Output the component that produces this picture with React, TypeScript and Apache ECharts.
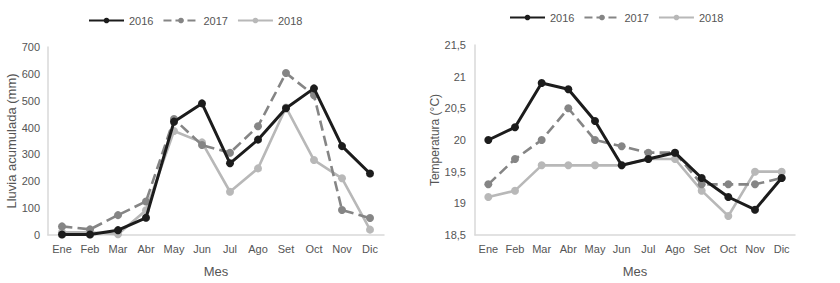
import React, { useEffect, useRef } from "react";
import * as echarts from "echarts";

const months = ["Ene", "Feb", "Mar", "Abr", "May", "Jun", "Jul", "Ago", "Set", "Oct", "Nov", "Dic"];
const years = ["2016", "2017", "2018"];

const rain2016 = [2, 2, 18, 64, 422, 490, 267, 355, 472, 546, 331, 229];
const rain2017 = [32, 21, 74, 125, 432, 335, 306, 405, 603, 520, 93, 63];
const rain2018 = [10, 10, 3, 92, 387, 345, 161, 248, 475, 279, 211, 20];

const temp2016 = [20.0, 20.2, 20.9, 20.8, 20.3, 19.6, 19.7, 19.8, 19.4, 19.1, 18.9, 19.4];
const temp2017 = [19.3, 19.7, 20.0, 20.5, 20.0, 19.9, 19.8, 19.8, 19.3, 19.3, 19.3, 19.4];
const temp2018 = [19.1, 19.2, 19.6, 19.6, 19.6, 19.6, 19.7, 19.7, 19.2, 18.8, 19.5, 19.5];

const colors = ["#1c1c1c", "#858585", "#b8b8b8"];
const lineTypes: ("solid" | "dashed")[] = ["solid", "dashed", "solid"];
const widths = [3, 2.6, 2.6];

const FONT = "Liberation Sans, Arial, sans-serif";
const TXT = "#555555";

export default function App() {
  const ref = useRef<HTMLDivElement>(null);
  useEffect(() => {
    if (!ref.current) return;
    const chart = echarts.init(ref.current, undefined, { renderer: "svg" });
    const mkSeries = (data: number[], i: number, idx: number) => ({
      name: years[i],
      type: "line",
      xAxisIndex: idx,
      yAxisIndex: idx,
      data,
      symbol: "circle",
      symbolSize: 8,
      itemStyle: { color: colors[i] },
      lineStyle: { color: colors[i], width: widths[i], type: lineTypes[i] },
      z: 3 - i,
    });
    const xAxisBase = (gridIndex: number) => ({
      type: "category",
      gridIndex,
      data: months,
      boundaryGap: true,
      axisLine: { lineStyle: { color: "#d9d9d9", width: 1.5 } },
      axisTick: { show: false },
      axisLabel: { color: TXT, fontSize: 11, fontFamily: FONT, margin: 8, interval: 0 },
      name: "Mes",
      nameLocation: "middle",
      nameGap: 30,
      nameTextStyle: { color: TXT, fontSize: 13, fontFamily: FONT },
    });
    const legendBase = {
      data: years,
      itemWidth: 35,
      itemHeight: 7,
      itemGap: 9,
      selectedMode: false,
      textStyle: { color: TXT, fontSize: 11, fontFamily: FONT },
    };
    chart.setOption({
      animation: false,
      textStyle: { fontFamily: FONT },
      legend: [
        { ...legendBase, left: 83, top: 10 },
        { ...legendBase, left: 504, top: 7 },
      ],
      grid: [
        { left: 48, top: 47, width: 336, height: 188 },
        { left: 475, top: 45, width: 320, height: 190 },
      ],
      xAxis: [xAxisBase(0), xAxisBase(1)],
      yAxis: [
        {
          type: "value",
          gridIndex: 0,
          min: 0,
          max: 700,
          interval: 100,
          axisLine: { show: true, lineStyle: { color: "#d9d9d9", width: 1.5 } },
          axisTick: { show: false },
          splitLine: { show: false },
          axisLabel: { color: TXT, fontSize: 11, fontFamily: FONT, margin: 8 },
          name: "Lluvia acumulada (mm)",
          nameLocation: "middle",
          nameGap: 30,
          nameTextStyle: { color: TXT, fontSize: 13, fontFamily: FONT },
        },
        {
          type: "value",
          gridIndex: 1,
          min: 18.5,
          max: 21.5,
          interval: 0.5,
          axisLine: { show: true, lineStyle: { color: "#d9d9d9", width: 1.5 } },
          axisTick: { show: false },
          splitLine: { show: false },
          axisLabel: {
            color: TXT,
            fontSize: 11,
            fontFamily: FONT,
            margin: 9,
            formatter: (v: number) => String(v).replace(".", ","),
          },
          name: "Temperatura (°C)",
          nameLocation: "middle",
          nameGap: 34,
          nameTextStyle: { color: TXT, fontSize: 12, fontFamily: FONT },
        },
      ],
      series: [
        mkSeries(rain2016, 0, 0),
        mkSeries(rain2017, 1, 0),
        mkSeries(rain2018, 2, 0),
        mkSeries(temp2016, 0, 1),
        mkSeries(temp2017, 1, 1),
        mkSeries(temp2018, 2, 1),
      ],
    });
    return () => chart.dispose();
  }, []);
  return (
    <div
      ref={ref}
      style={{ position: "fixed", left: 0, top: 0, width: 840, height: 283, background: "#ffffff" }}
    />
  );
}
